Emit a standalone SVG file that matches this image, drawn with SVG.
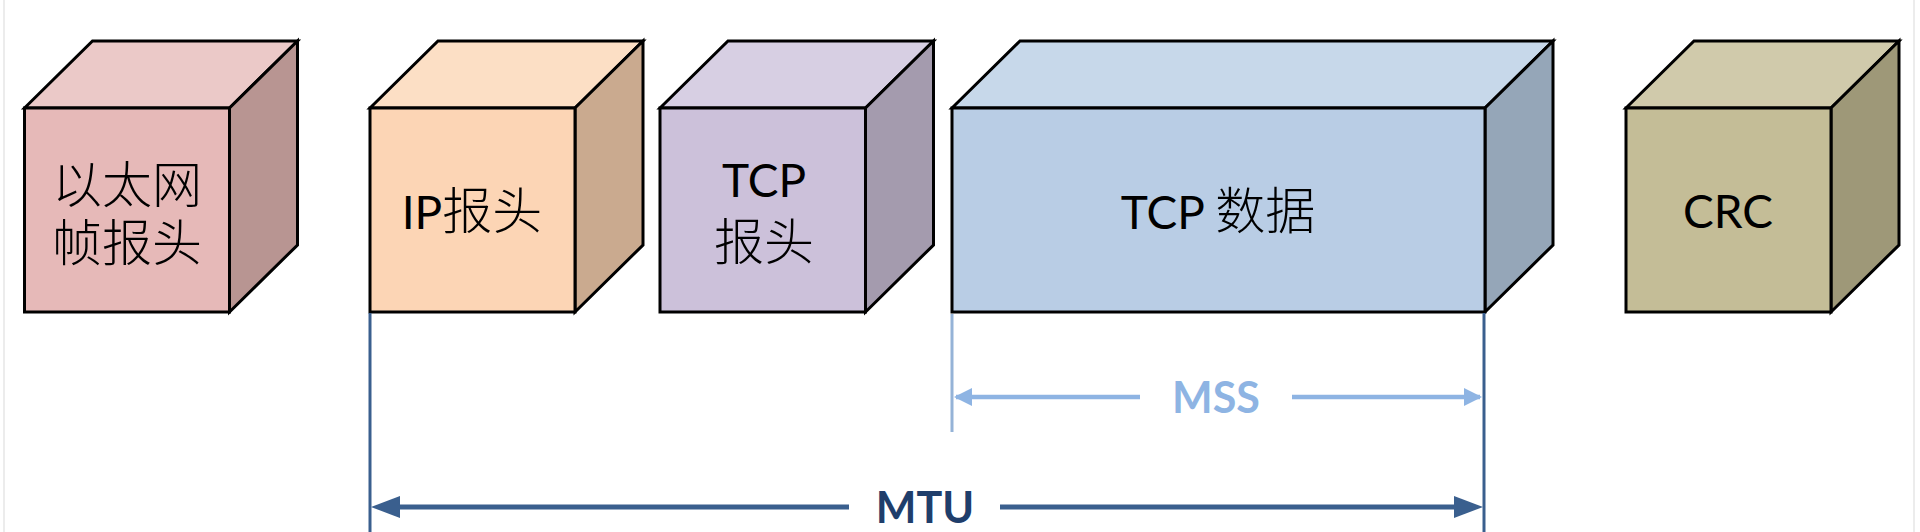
<svg xmlns="http://www.w3.org/2000/svg" width="1920" height="532" viewBox="0 0 1920 532">
<style>
.edge{stroke:#000;stroke-width:3;stroke-linejoin:miter}
.lbl{font-family:Lato,"Noto Sans CJK SC",sans-serif;font-size:46px;fill:#000;text-anchor:middle}
.cjk{font-family:"Noto Sans CJK SC",sans-serif;font-weight:300;font-size:50px}
.cjkl{font-family:"Noto Sans CJK SC",sans-serif;font-weight:300;font-size:50px;fill:#000;text-anchor:middle}
.dim{font-family:Lato,"Liberation Sans",sans-serif;font-weight:bold;font-size:43px;text-anchor:middle}
</style>
<rect width="1920" height="532" fill="#fff"/>
<line x1="4" y1="0" x2="4" y2="532" stroke="#e6e6e6" stroke-width="1.5"/>
<line x1="1914" y1="0" x2="1914" y2="532" stroke="#e6e6e6" stroke-width="1.5"/>

<g id="eth-header">
<polygon class="edge" fill="#EBC9C8" points="24.5,108 92.5,41 297.5,41 229.5,108"/>
<polygon class="edge" fill="#B89592" points="229.5,108 297.5,41 297.5,245 229.5,312"/>
<rect class="edge" fill="#E6B9B8" x="24.5" y="108" width="205" height="204"/>
<text class="cjkl" x="127" y="203">以太网</text>
<text class="cjkl" x="127" y="261">帧报头</text>
</g>

<g id="ip-header">
<polygon class="edge" fill="#FCDFC5" points="370,108 438,41 643,41 575,108"/>
<polygon class="edge" fill="#CAAA8F" points="575,108 643,41 643,245 575,312"/>
<rect class="edge" fill="#FCD5B5" x="370" y="108" width="205" height="204"/>
<text class="lbl" x="472" y="229">IP<tspan class="cjk">报头</tspan></text>
</g>

<g id="tcp-header">
<polygon class="edge" fill="#D7CFE3" points="660,108 728,41 933.5,41 865.5,108"/>
<polygon class="edge" fill="#A49BAE" points="865.5,108 933.5,41 933.5,245 865.5,312"/>
<rect class="edge" fill="#CCC1DA" x="660" y="108" width="205.5" height="204"/>
<text class="lbl" x="764" y="197">TCP</text>
<text class="cjkl" x="764" y="260">报头</text>
</g>

<g id="tcp-data">
<polygon class="edge" fill="#C7D8EA" points="952,108 1020,41 1553,41 1485,108"/>
<polygon class="edge" fill="#95A6B8" points="1485,108 1553,41 1553,245 1485,312"/>
<rect class="edge" fill="#B9CDE5" x="952" y="108" width="533" height="204"/>
<text class="lbl" x="1218" y="229">TCP <tspan class="cjk">数据</tspan></text>
</g>

<g id="crc">
<polygon class="edge" fill="#D0CAAB" points="1626,108 1694,41 1899,41 1831,108"/>
<polygon class="edge" fill="#9E9878" points="1831,108 1899,41 1899,245 1831,312"/>
<rect class="edge" fill="#C4BD97" x="1626" y="108" width="205" height="204"/>
<text class="lbl" x="1728" y="228">CRC</text>
</g>

<g id="connectors">
<line x1="952" y1="314" x2="952" y2="432" stroke="#95B3D7" stroke-width="3"/>
<line x1="956" y1="397" x2="1140" y2="397" stroke="#8EB4E3" stroke-width="4.5"/>
<line x1="1292" y1="397" x2="1480" y2="397" stroke="#8EB4E3" stroke-width="4.5"/>
<polygon fill="#8EB4E3" points="954,397 972,388 972,406"/>
<polygon fill="#8EB4E3" points="1482,397 1464,388 1464,406"/>

<line x1="370" y1="313" x2="370" y2="532" stroke="#3A5F8E" stroke-width="3"/>
<line x1="1484" y1="313" x2="1484" y2="532" stroke="#3A5F8E" stroke-width="3"/>
<line x1="380" y1="507" x2="849" y2="507" stroke="#3A5F8E" stroke-width="5"/>
<line x1="1000" y1="507" x2="1470" y2="507" stroke="#3A5F8E" stroke-width="5"/>
<polygon fill="#3A5F8E" points="371,507 400,496 400,518"/>
<polygon fill="#3A5F8E" points="1483,507 1454,496 1454,518"/>
</g>

<text class="dim" x="1216" y="413" fill="#8EB4E3">MSS</text>
<text class="dim" x="925" y="523" fill="#1F3E6B">MTU</text>
</svg>
